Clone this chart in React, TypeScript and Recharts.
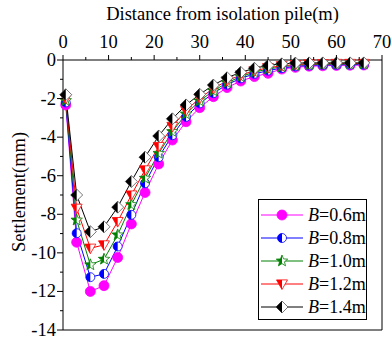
import { LineChart, Line, XAxis, YAxis, ReferenceLine } from 'recharts'

// distance from isolation pile (m)
const distance = [0.6, 3, 6, 9, 12, 15, 18, 21, 24, 27, 30, 33, 36, 39, 42, 45, 48, 51, 54, 57, 60, 63, 66]

// settlement (mm) for each pile diameter B
const b06 = [-2.33, -9.45, -12.0, -11.7, -10.24, -8.5, -6.87, -5.39, -4.15, -3.2, -2.47, -1.9, -1.43, -1.09, -0.86, -0.69, -0.47, -0.38, -0.32, -0.3, -0.28, -0.27, -0.26]
const b08 = [-2.2, -8.98, -11.26, -11.09, -9.67, -8.03, -6.39, -5.04, -3.9, -2.95, -2.25, -1.72, -1.28, -0.95, -0.72, -0.55, -0.42, -0.33, -0.28, -0.26, -0.25, -0.24, -0.24]
const b10 = [-2.1, -8.3, -10.62, -10.33, -9.07, -7.5, -6.13, -4.84, -3.71, -2.8, -2.12, -1.6, -1.18, -0.86, -0.63, -0.47, -0.35, -0.28, -0.24, -0.22, -0.21, -0.21, -0.2]
const b12 = [-2.0, -7.69, -9.76, -9.59, -8.38, -7.0, -5.7, -4.49, -3.45, -2.62, -1.98, -1.48, -1.08, -0.78, -0.56, -0.4, -0.3, -0.24, -0.2, -0.19, -0.18, -0.18, -0.18]
const b14 = [-1.8, -7.0, -8.9, -8.65, -7.63, -6.3, -5.04, -3.94, -3.05, -2.33, -1.78, -1.3, -0.92, -0.64, -0.43, -0.28, -0.2, -0.16, -0.15, -0.15, -0.15, -0.15, -0.15]

const xTicks = [0, 5, 10, 15, 20, 25, 30, 35, 40, 45, 50, 55, 60, 65, 70]
const yTicks = [-14, -13, -12, -11, -10, -9, -8, -7, -6, -5, -4, -3, -2, -1, 0]

const txt = { fontFamily: 'Liberation Serif, serif', fontSize: 18.5, fill: '#000' }
const legendTxt = { fontFamily: 'Liberation Serif, serif', fontSize: 18, fill: '#000' }

type Shape = 'circle' | 'halfCircle' | 'star' | 'triangle' | 'diamond'

const seriesList: { key: string; label: string; color: string; shape: Shape; values: number[] }[] = [
  { key: 'b06', label: '0.6m', color: '#ff00ff', shape: 'circle', values: b06 },
  { key: 'b08', label: '0.8m', color: '#0000ff', shape: 'halfCircle', values: b08 },
  { key: 'b10', label: '1.0m', color: '#008000', shape: 'star', values: b10 },
  { key: 'b12', label: '1.2m', color: '#ff0000', shape: 'triangle', values: b12 },
  { key: 'b14', label: '1.4m', color: '#000000', shape: 'diamond', values: b14 },
]

const data = distance.map((d, i) => {
  const row: Record<string, number> = { d }
  seriesList.forEach((s) => {
    row[s.key] = s.values[i]
  })
  return row
})

function starPoints(cx: number, cy: number, R: number, r: number, angles: number[]) {
  return angles
    .map((a, i) => {
      const rad = (a * Math.PI) / 180
      const rr = i % 2 === 0 ? R : r
      return `${cx + rr * Math.cos(rad)},${cy + rr * Math.sin(rad)}`
    })
    .join(' ')
}

function Marker({ shape, color, cx, cy }: { shape: Shape; color: string; cx: number; cy: number }) {
  if (shape === 'circle') {
    return <circle cx={cx} cy={cy} r={5} fill={color} stroke={color} strokeWidth={0.8} />
  }
  if (shape === 'halfCircle') {
    const r = 4.5
    return (
      <g>
        <circle cx={cx} cy={cy} r={r} fill="#fff" stroke={color} strokeWidth={0.8} />
        <path d={`M${cx},${cy - r} A${r},${r} 0 0 0 ${cx},${cy + r} Z`} fill={color} />
      </g>
    )
  }
  if (shape === 'star') {
    const R = 6
    const r = 2.6
    const full = starPoints(cx, cy, R, r, [-90, -54, -18, 18, 54, 90, 126, 162, 198, 234])
    const left = starPoints(cx, cy, R, r, [-90, 234, 198, 162, 126, 90])
    return (
      <g>
        <polygon points={full} fill="#fff" stroke={color} strokeWidth={0.8} />
        <polygon points={left} fill={color} />
      </g>
    )
  }
  if (shape === 'triangle') {
    const s = 5.5
    const top = cy - s * 0.75
    return (
      <g>
        <polygon points={`${cx - s},${top} ${cx + s},${top} ${cx},${cy + s}`} fill="#fff" stroke={color} strokeWidth={0.8} />
        <polygon points={`${cx - s},${top} ${cx},${top} ${cx},${cy + s}`} fill={color} />
      </g>
    )
  }
  const s = 6
  return (
    <g>
      <polygon points={`${cx},${cy - s} ${cx + s},${cy} ${cx},${cy + s} ${cx - s},${cy}`} fill="#fff" stroke="#555" strokeWidth={0.8} />
      <polygon points={`${cx},${cy - s} ${cx},${cy + s} ${cx - s},${cy}`} fill={color} />
    </g>
  )
}

function XTick({ x, y, payload }: any) {
  const major = payload.value % 10 === 0
  return (
    <g>
      <line x1={x} x2={x} y1={y} y2={y - (major ? 5 : 3)} stroke="#000" />
      {major && (
        <text x={x} y={y - 12} textAnchor="middle" style={txt}>
          {payload.value}
        </text>
      )}
    </g>
  )
}

function YTick({ x, y, payload }: any) {
  const major = payload.value % 2 === 0
  return (
    <g>
      <line x1={x} x2={x - (major ? 6 : 3)} y1={y} y2={y} stroke="#000" />
      {major && (
        <text x={x - 7} y={y + 6} textAnchor="end" style={txt}>
          {payload.value}
        </text>
      )}
    </g>
  )
}

function XTitle({ viewBox }: any) {
  const cx = viewBox.x + viewBox.width / 2
  return (
    <text x={cx} y={20} textAnchor="middle" style={txt}>
      Distance from isolation pile(m)
    </text>
  )
}

function YTitle({ viewBox }: any) {
  const cy = viewBox.y + viewBox.height / 2 - 3
  return (
    <text x={25} y={cy} textAnchor="middle" transform={`rotate(-90 25 ${cy})`} style={txt}>
      Settlement(mm)
    </text>
  )
}

function LegendBox() {
  return (
    <svg width={110} height={122} style={{ display: 'block' }}>
      <rect x={0.5} y={0.5} width={108} height={120} fill="#fff" stroke="#000" />
      {seriesList.map((s, i) => {
        const cy = 16 + i * 23
        return (
          <g key={s.key}>
            <line x1={3} x2={45} y1={cy} y2={cy} stroke={s.color} strokeWidth={1} />
            <Marker shape={s.shape} color={s.color} cx={24} cy={cy} />
            <text x={50} y={cy + 6} style={legendTxt}>
              <tspan fontStyle="italic">B</tspan>={s.label}
            </text>
          </g>
        )
      })}
    </svg>
  )
}

export default function App() {
  return (
    <div style={{ position: 'absolute', left: 0, top: 0, width: 392, height: 341, background: '#fff' }}>
      <LineChart width={392} height={341} data={data} margin={{ top: 0, right: 10, bottom: 11, left: 0 }}>
        <XAxis
          dataKey="d"
          type="number"
          orientation="top"
          domain={[0, 70]}
          ticks={xTicks}
          interval={0}
          height={60}
          tickSize={0}
          tickMargin={0}
          tickLine={false}
          tick={<XTick />}
          axisLine={{ stroke: '#000' }}
          label={<XTitle />}
        />
        <YAxis
          type="number"
          domain={[-14, 0]}
          ticks={yTicks}
          interval={0}
          width={63}
          tickSize={0}
          tickMargin={0}
          tickLine={false}
          tick={<YTick />}
          axisLine={{ stroke: '#000' }}
          label={<YTitle />}
        />
        <ReferenceLine segment={[{ x: 70, y: 0 }, { x: 70, y: -14 }]} stroke="#000" ifOverflow="visible" />
        <ReferenceLine segment={[{ x: 0, y: -14 }, { x: 70, y: -14 }]} stroke="#000" ifOverflow="visible" />
        {seriesList.map((s) => (
          <Line
            key={s.key}
            dataKey={s.key}
            stroke={s.color}
            strokeWidth={1}
            isAnimationActive={false}
            dot={(p: any) => <Marker key={`${s.key}-${p.index}`} shape={s.shape} color={s.color} cx={p.cx} cy={p.cy} />}
            activeDot={false}
          />
        ))}
      </LineChart>
      <div style={{ position: 'absolute', left: 258, top: 199 }}>
        <LegendBox />
      </div>
    </div>
  )
}
